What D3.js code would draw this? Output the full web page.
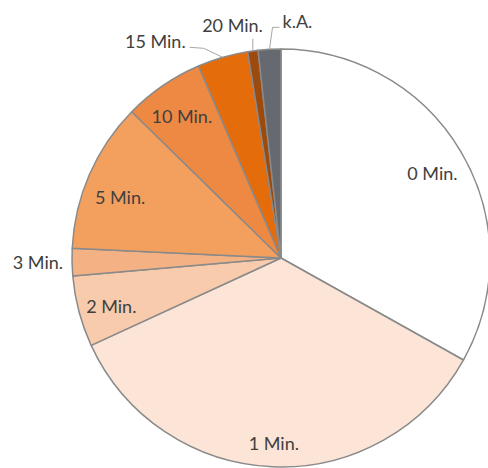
<!DOCTYPE html>
<html>
<head>
<meta charset="utf-8">
<script src="https://cdn.jsdelivr.net/npm/d3@7"></script>
<style>
html,body{margin:0;padding:0;background:#fff;}
svg{display:block;}
</style>
</head>
<body>
<svg id="chart" width="488" height="468"></svg>
<script>
// Data
const categories = ["0 Min.", "1 Min.", "2 Min.", "3 Min.", "5 Min.", "10 Min.", "15 Min.", "20 Min.", "k.A."];
const shares = [33.1, 35.0, 5.5, 2.1, 11.6, 6.2, 3.9, 0.8, 1.75];
const outsideLabels = ["3 Min.", "15 Min.", "20 Min.", "k.A."];

const colors = ["#FFFFFF", "#FCE4D6", "#F8CBAD", "#F4B183", "#F3A05F", "#EE8943", "#E46C0A", "#9C4A0E", "#666A70"];

const W = 488, H = 468;
const cx = 281, cy = 258, R = 209;

const svg = d3.select("#chart");
const g = svg.append("g").attr("transform", `translate(${cx},${cy})`);

const pie = d3.pie().sort(null).value(d => d.v);
const data = pie(categories.map((c, i) => ({c, v: shares[i]})));
const color = d3.scaleOrdinal().domain(categories).range(colors);

const arc = d3.arc().innerRadius(0).outerRadius(R);
g.selectAll("path.slice").data(data).join("path")
  .attr("class", "slice")
  .attr("d", arc)
  .attr("fill", d => color(d.data.c))
  .attr("stroke", "#8A8A8A")
  .attr("stroke-width", 1.5)
  .attr("stroke-linejoin", "round");

const font = "Lato, 'Open Sans', sans-serif";
const fs = 18;
const txtCol = "#404040";
const mid = d => (d.startAngle + d.endAngle) / 2;
const polar = (a, r) => [Math.sin(a) * r, -Math.cos(a) * r];

// inside labels (best-fit style: slightly below the arc centroid)
const inside = data.filter(d => !outsideLabels.includes(d.data.c));
const labelR = d => R * (d.data.c === "1 Min." ? 0.87 : 0.84);
const labelPos = d => {
  const [x, y] = polar(mid(d), labelR(d));
  return [x, y + (d.data.c === "5 Min." ? 10 : 4)];
};
g.selectAll("text.in").data(inside).join("text")
  .attr("class", "in")
  .attr("x", d => labelPos(d)[0])
  .attr("y", d => labelPos(d)[1])
  .attr("dy", "0.35em")
  .attr("text-anchor", "middle")
  .attr("font-family", font)
  .attr("font-size", fs)
  .attr("fill", txtCol)
  .text(d => d.data.c);

// outside labels with leader lines
const leader = "#A6A6A6";
data.filter(d => outsideLabels.includes(d.data.c)).forEach(d => {
  const [ex, ey] = polar(mid(d), R);
  const c = d.data.c;
  let tx, ty, anchor, pts = null;
  if (c === "3 Min.") {
    tx = ex - 9; ty = ey + 7; anchor = "end";
  } else if (c === "15 Min.") {
    pts = [[ex, ey], [ex - 19, ey - 9], [ex - 33, ey - 10]];
    tx = ex - 37; ty = ey - 9; anchor = "end";
  } else if (c === "20 Min.") {
    pts = [[ex, ey], [ex, ey - 12]];
    tx = ex + 10; ty = ey - 19; anchor = "end";
  } else {
    pts = [[ex, ey], [ex + 3, ey - 22], [ex + 10, ey - 22]];
    tx = ex + 13; ty = ey - 21; anchor = "start";
  }
  if (pts) {
    g.append("polyline")
      .attr("points", pts.map(p => p.join(",")).join(" "))
      .attr("fill", "none")
      .attr("stroke", leader)
      .attr("stroke-width", 1);
  }
  g.append("text")
    .attr("x", tx).attr("y", ty)
    .attr("text-anchor", anchor)
    .attr("font-family", font)
    .attr("font-size", fs)
    .attr("fill", txtCol)
    .text(c);
});
</script>
</body>
</html>
